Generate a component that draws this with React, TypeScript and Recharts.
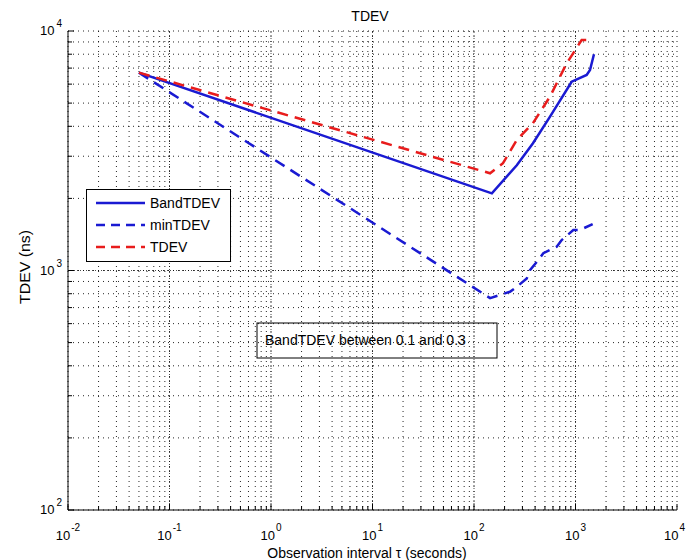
import React from "react";
import {
  LineChart,
  Line,
  XAxis,
  YAxis,
  CartesianGrid,
  ReferenceLine,
  Legend,
  Customized,
} from "recharts";

// ---- data ----
const bandTdev = [
  { t: 0.05, v: 6700 },
  { t: 150, v: 2100 },
  { t: 264, v: 2750 },
  { t: 381, v: 3400 },
  { t: 561, v: 4390 },
  { t: 917, v: 6140 },
  { t: 1288, v: 6550 },
  { t: 1390, v: 6870 },
  { t: 1520, v: 8000 },
];

const minTdev = [
  { t: 0.05, v: 6700 },
  { t: 144, v: 767 },
  { t: 226, v: 815 },
  { t: 264, v: 855 },
  { t: 331, v: 927 },
  { t: 356, v: 1004 },
  { t: 431, v: 1106 },
  { t: 482, v: 1181 },
  { t: 653, v: 1257 },
  { t: 731, v: 1340 },
  { t: 951, v: 1476 },
  { t: 1107, v: 1476 },
  { t: 1476, v: 1563 },
];

const tdev = [
  { t: 0.05, v: 6700 },
  { t: 144, v: 2547 },
  { t: 193, v: 2806 },
  { t: 264, v: 3508 },
  { t: 381, v: 4123 },
  { t: 561, v: 5325 },
  { t: 819, v: 7330 },
  { t: 1150, v: 9170 },
  { t: 1470, v: 9170 },
];

const xDecades = [-2, -1, 0, 1, 2, 3, 4];
const yDecades = [2, 3, 4];
const mults = [1, 2, 3, 4, 5, 6, 7, 8, 9];

const buildTicks = (decs: number[]) => {
  const out: number[] = [];
  decs.forEach((d, i) => {
    if (i === decs.length - 1) {
      out.push(Math.pow(10, d));
    } else {
      mults.forEach((m) => out.push(Number((m * Math.pow(10, d)).toPrecision(6))));
    }
  });
  return out;
};
const xTicks = buildTicks(xDecades);
const yTicks = buildTicks(yDecades);
const xMajor = [0.1, 1, 10, 100, 1000];
const yMajor = [1000];

const seriesNames = ["BandTDEV", "minTDEV", "TDEV"];
const title = "TDEV";
const xLabel = "Observation interval \u03c4 (seconds)";
const yLabel = "TDEV (ns)";
const note = "BandTDEV between 0.1 and 0.3";

const BLUE = "#1a1ad2";
const RED = "#e81c1c";
const FONT = "'Liberation Sans', Arial, Helvetica, sans-serif";

const isMajor = (v: number) => {
  const l = Math.log10(v);
  return Math.abs(l - Math.round(l)) < 1e-6;
};
const expOf = (v: number) => String(Math.round(Math.log10(v)));

const BottomTick = (p: any) => {
  const { x, y, payload } = p;
  const v = payload.value;
  const maj = isMajor(v);
  const last = v >= 10000;
  return (
    <g>
      <line x1={x} x2={x} y1={y} y2={y - (maj ? 6 : 4)} stroke="#000" />
      {maj && (
        <text
          x={last ? x + 8 : x}
          y={y + 30}
          textAnchor={last ? "end" : "middle"}
          fontSize={13}
          fontFamily={FONT}
          fill="#000"
        >
          10
          <tspan dx={1} dy={-9} fontSize={10}>
            {expOf(v)}
          </tspan>
        </text>
      )}
    </g>
  );
};

const TopTick = (p: any) => {
  const { x, y, payload } = p;
  const maj = isMajor(payload.value);
  return <line x1={x} x2={x} y1={y} y2={y + (maj ? 6 : 4)} stroke="#000" />;
};

const LeftTick = (p: any) => {
  const { x, y, payload } = p;
  const v = payload.value;
  const maj = isMajor(v);
  return (
    <g>
      <line x1={x} x2={x + (maj ? 6 : 4)} y1={y} y2={y} stroke="#000" />
      {maj && (
        <text x={x - 6} y={y + 4} textAnchor="end" fontSize={13} fontFamily={FONT} fill="#000">
          10
          <tspan dx={2} dy={-8} fontSize={10}>
            {expOf(v)}
          </tspan>
        </text>
      )}
    </g>
  );
};

const RightTick = (p: any) => {
  const { x, y, payload } = p;
  const maj = isMajor(payload.value);
  return <line x1={x} x2={x - (maj ? 6 : 4)} y1={y} y2={y} stroke="#000" />;
};

const Texts = () => (
  <g fontFamily={FONT} fill="#000">
    <text x={370} y={21} textAnchor="middle" fontSize={14}>
      {title}
    </text>
    <text x={367} y={558} textAnchor="middle" fontSize={14}>
      {xLabel}
    </text>
    <text
      x={30}
      y={267}
      textAnchor="middle"
      fontSize={14}
      textLength={74}
      lengthAdjust="spacingAndGlyphs"
      transform="rotate(-90 30 267)"
    >
      {yLabel}
    </text>
    <rect x={257} y={323} width={240} height={35} fill="none" stroke="#000" />
    <text x={265} y={345} fontSize={14}>
      {note}
    </text>
  </g>
);

const legendStyles = [
  { color: BLUE, dash: undefined },
  { color: BLUE, dash: "9 6" },
  { color: RED, dash: "9 6" },
];

const LegendBox = () => (
  <svg width={145} height={73} style={{ display: "block" }}>
    <rect x={0.5} y={0.5} width={144} height={72} fill="#fff" stroke="#000" />
    {seriesNames.map((n, i) => (
      <g key={n}>
        <line
          x1={10}
          x2={59}
          y1={14 + i * 22}
          y2={14 + i * 22}
          stroke={legendStyles[i].color}
          strokeWidth={2.5}
          strokeDasharray={legendStyles[i].dash}
        />
        <text x={64} y={19 + i * 22} fontSize={14} fontFamily={FONT} fill="#000">
          {n}
        </text>
      </g>
    ))}
  </svg>
);

export default function App() {
  return (
    <div
      style={{
        position: "absolute",
        left: 0,
        top: 0,
        width: 686,
        height: 560,
        background: "#fff",
      }}
    >
      <LineChart width={686} height={560} margin={{ top: 31, right: 9, bottom: 0, left: 0 }}>
        <CartesianGrid stroke="#000" strokeDasharray="1 4" strokeWidth={1} strokeOpacity={0.85} />
        {xMajor.map((v) => (
          <ReferenceLine key={"x" + v} x={v} stroke="#000" strokeDasharray="1 2" strokeOpacity={0.7} />
        ))}
        {yMajor.map((v) => (
          <ReferenceLine key={"y" + v} y={v} stroke="#000" strokeDasharray="1 2" strokeOpacity={0.7} />
        ))}
        <XAxis
          dataKey="t"
          type="number"
          scale="log"
          domain={[0.01, 10000]}
          allowDataOverflow
          ticks={xTicks}
          interval={0}
          tickSize={0}
          tickMargin={0}
          tickLine={false}
          height={50}
          axisLine={{ stroke: "#000" }}
          tick={<BottomTick />}
        />
        <XAxis
          xAxisId="top"
          orientation="top"
          dataKey="t"
          type="number"
          scale="log"
          domain={[0.01, 10000]}
          allowDataOverflow
          ticks={xTicks}
          interval={0}
          tickSize={0}
          tickMargin={0}
          tickLine={false}
          height={0}
          axisLine={{ stroke: "#000" }}
          tick={<TopTick />}
        />
        <YAxis
          type="number"
          scale="log"
          domain={[100, 10000]}
          allowDataOverflow
          ticks={yTicks}
          interval={0}
          tickSize={0}
          tickMargin={0}
          tickLine={false}
          width={68}
          axisLine={{ stroke: "#000" }}
          tick={<LeftTick />}
        />
        <YAxis
          yAxisId="right"
          orientation="right"
          type="number"
          scale="log"
          domain={[100, 10000]}
          allowDataOverflow
          ticks={yTicks}
          interval={0}
          tickSize={0}
          tickMargin={0}
          tickLine={false}
          width={0}
          axisLine={{ stroke: "#000" }}
          tick={<RightTick />}
        />
        <Line
          data={bandTdev}
          dataKey="v"
          name={seriesNames[0]}
          stroke={BLUE}
          strokeWidth={2.5}
          dot={false}
          isAnimationActive={false}
        />
        <Line
          data={minTdev}
          dataKey="v"
          name={seriesNames[1]}
          stroke={BLUE}
          strokeWidth={2.5}
          strokeDasharray="11 7"
          dot={false}
          isAnimationActive={false}
        />
        <Line
          data={tdev}
          dataKey="v"
          name={seriesNames[2]}
          stroke={RED}
          strokeWidth={2.5}
          strokeDasharray="11 7"
          dot={false}
          isAnimationActive={false}
        />
        <Customized component={Texts} />
        <Legend
          layout="vertical"
          align="center"
          verticalAlign="middle"
          wrapperStyle={{ left: 86, top: 189, width: 145, height: 73, margin: 0, padding: 0 }}
          content={() => <LegendBox />}
        />
      </LineChart>
    </div>
  );
}
